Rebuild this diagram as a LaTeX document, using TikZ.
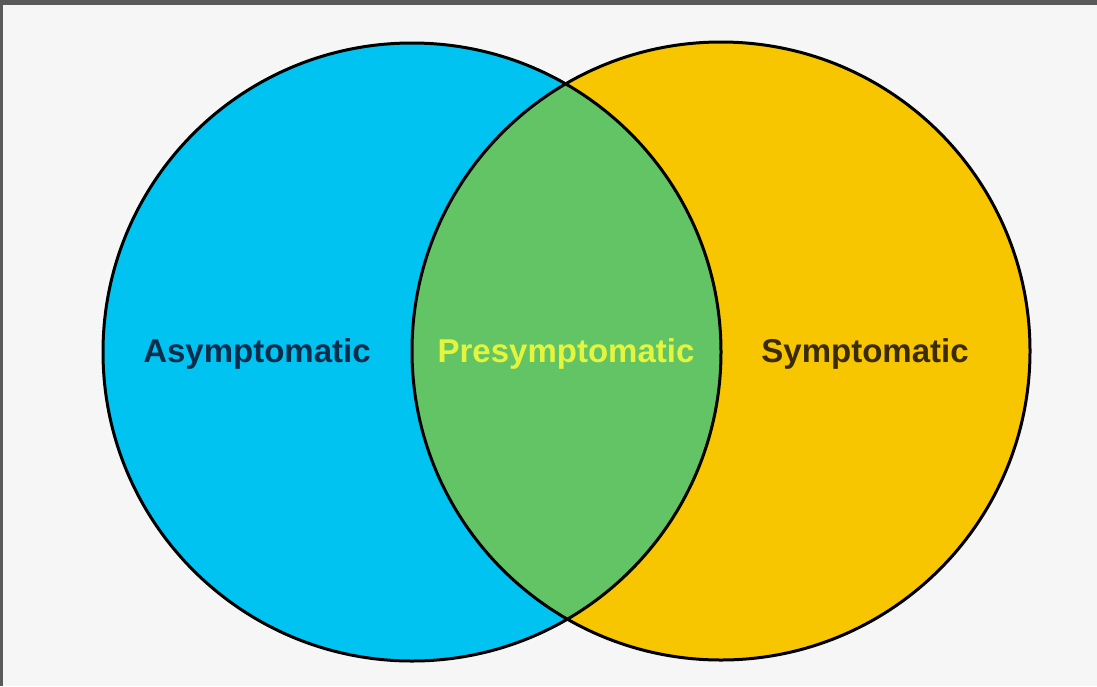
\documentclass[tikz,border=0pt]{standalone}
\usepackage{fontspec}
\setmainfont{Liberation Sans}
\definecolor{bg}{HTML}{F6F6F6}
\definecolor{frame}{HTML}{5A5A5A}
\definecolor{cyanc}{HTML}{00C3F2}
\definecolor{greenc}{HTML}{62C465}
\definecolor{yellowc}{HTML}{F7C600}
\definecolor{navyt}{HTML}{0B2D4C}
\definecolor{limet}{HTML}{E4F53C}
\definecolor{darkt}{HTML}{3A2C00}
\begin{document}
\begin{tikzpicture}[x=1pt,y=-1pt,
  lbl/.style={font=\fontsize{33}{36}\selectfont\bfseries, inner sep=0pt},
  ring/.style={draw=black, line width=3pt}]
\useasboundingbox (0,0) rectangle (1097,686);
\fill[frame] (0,0) rectangle (1097,686);
\fill[bg] (3,5) rectangle (1097,686);
\coordinate (cl) at (412,352);
\coordinate (cr) at (721,351);
\fill[cyanc] (cl) circle[radius=309];
\fill[yellowc] (cr) circle[radius=309];
\begin{scope}
  \clip (cl) circle[radius=309];
  \fill[greenc] (cr) circle[radius=309];
\end{scope}
\draw[ring] (cl) circle[radius=309];
\draw[ring] (cr) circle[radius=309];
\node[lbl, text=navyt] (asym) at (257,354) {Asymptomatic};
\node[lbl, text=limet] (presym) at (566,354) {Presymptomatic};
\node[lbl, text=darkt] (sym) at (865,354) {Symptomatic};
\end{tikzpicture}
\end{document}
